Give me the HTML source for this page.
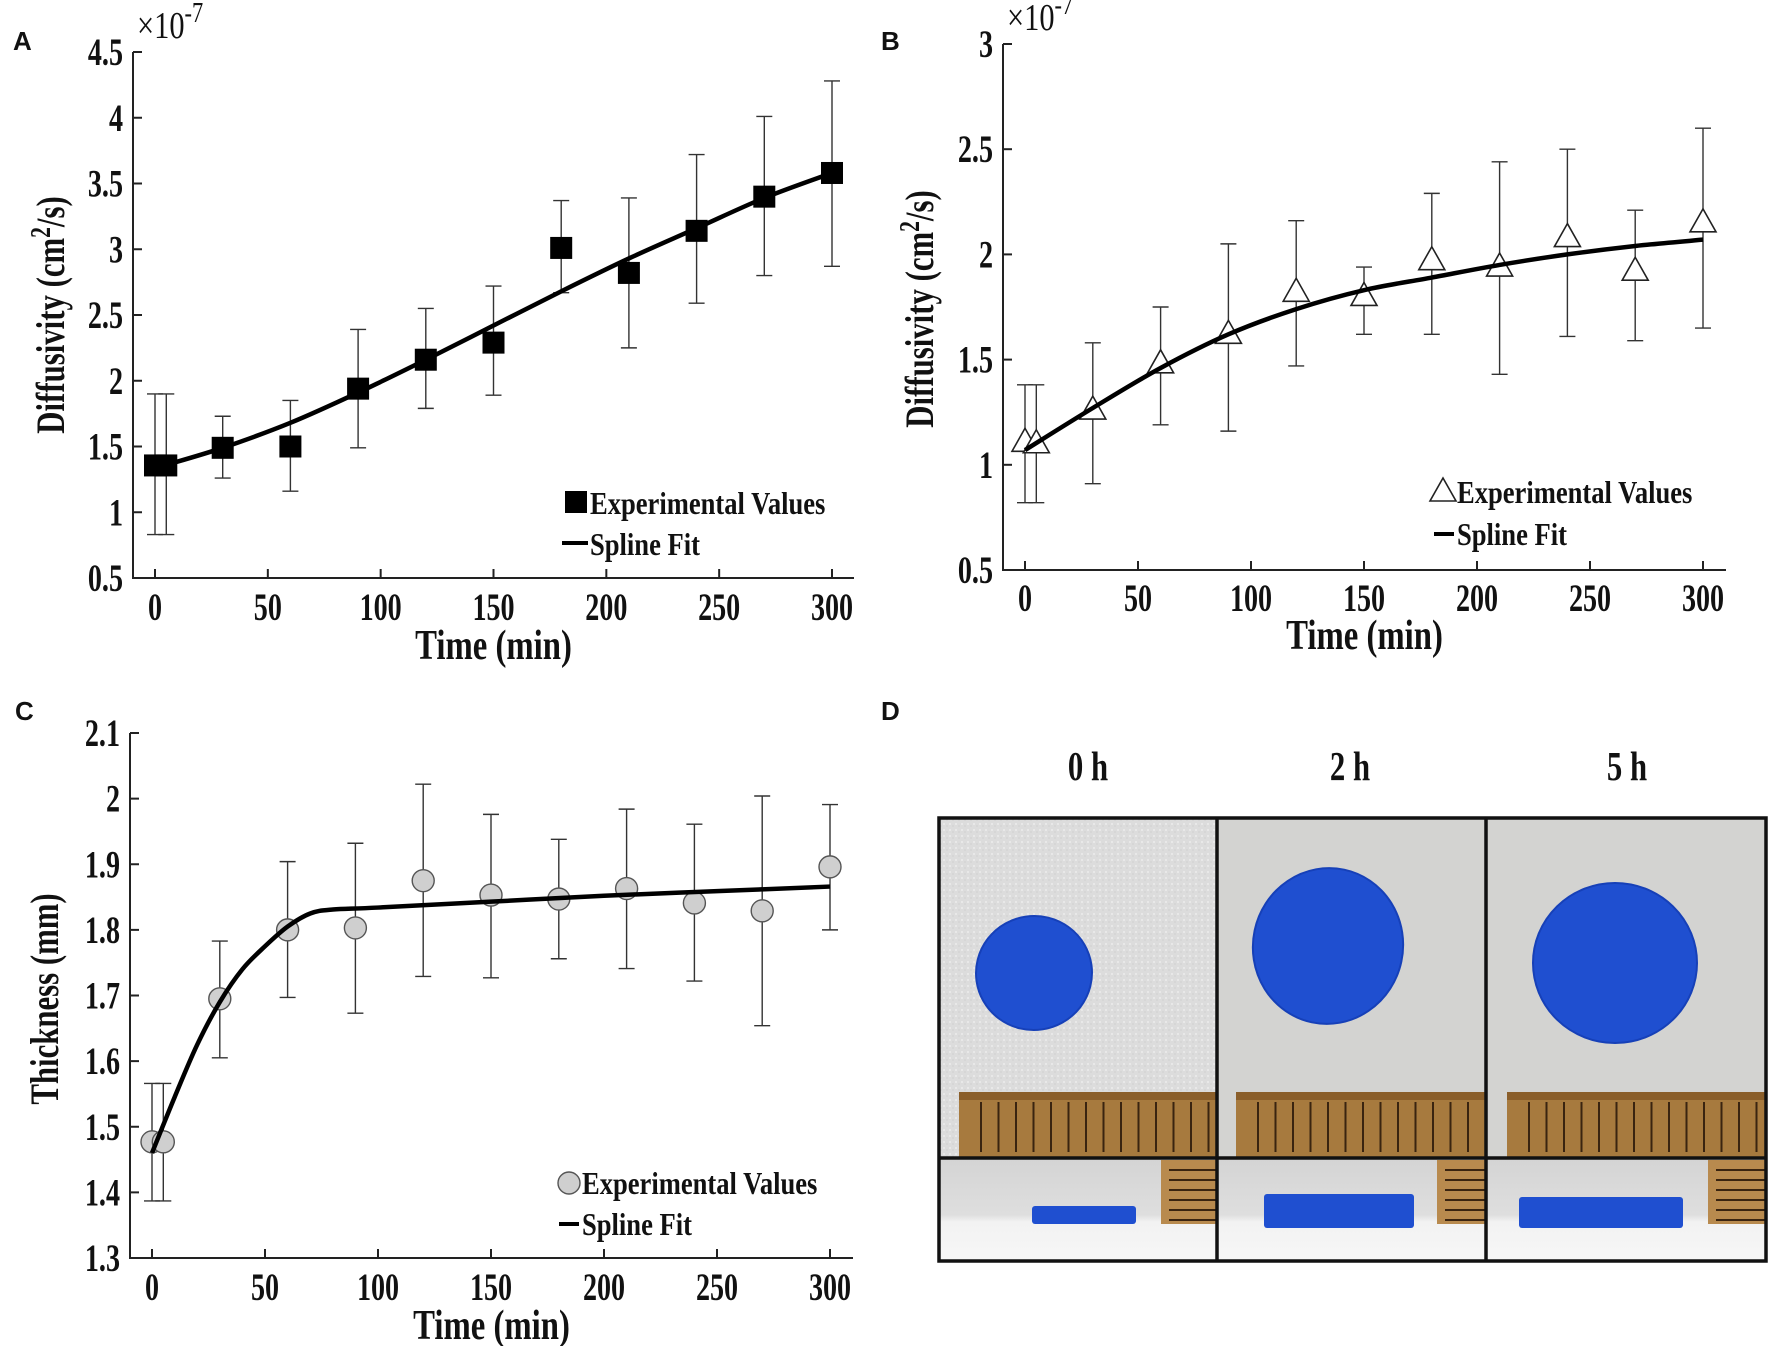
<!DOCTYPE html>
<html><head><meta charset="utf-8"><style>
body{margin:0;background:#fff}
svg{display:block}
text{font-family:"Liberation Serif",serif;font-weight:bold;fill:#111}
.lab{font-family:"Liberation Sans",sans-serif}
</style></head><body>
<svg id="fig" width="1772" height="1346" viewBox="0 0 1772 1346" xmlns="http://www.w3.org/2000/svg">
<defs>
<pattern id="tex" width="6" height="6" patternUnits="userSpaceOnUse"><rect width="6" height="6" fill="#dcdcdc"/><circle cx="2" cy="2" r="1" fill="#ececec"/><circle cx="5" cy="4" r="0.8" fill="#cfcfcf"/></pattern>
<linearGradient id="bot" x1="0" y1="0" x2="0" y2="1"><stop offset="0" stop-color="#d4d4d4"/><stop offset="0.55" stop-color="#dedede"/><stop offset="0.62" stop-color="#f2f2f2"/><stop offset="1" stop-color="#f7f7f7"/></linearGradient>
</defs>
<g id="root"></g>
</svg>
<script>
// Panel A data
const aTimes=[0,5,30,60,90,120,150,180,210,240,270,300];
const aVals=[1.356,1.356,1.49,1.50,1.94,2.16,2.29,3.01,2.82,3.14,3.40,3.58];
const aHi=[1.90,1.90,1.73,1.85,2.39,2.55,2.72,3.37,3.39,3.72,4.01,4.28];
const aLo=[0.83,0.83,1.26,1.16,1.49,1.79,1.89,2.67,2.25,2.59,2.80,2.87];
const aFitT=[5,30,60,90,120,150,180,210,240,270,300];
const aFitV=[1.36,1.49,1.68,1.91,2.16,2.42,2.68,2.93,3.16,3.39,3.58];
const aYTicks=[0.5,1,1.5,2,2.5,3,3.5,4,4.5];
const aYTickLabels=["0.5","1","1.5","2","2.5","3","3.5","4","4.5"];
// Panel B data
const bTimes=[0,5,30,60,90,120,150,180,210,240,270,300];
const bVals=[1.107,1.10,1.26,1.48,1.62,1.82,1.80,1.97,1.94,2.08,1.92,2.15];
const bHi=[1.38,1.38,1.58,1.75,2.05,2.16,1.94,2.29,2.44,2.50,2.21,2.60];
const bLo=[0.82,0.82,0.91,1.19,1.16,1.47,1.62,1.62,1.43,1.61,1.59,1.65];
const bFitT=[0,30,60,90,120,150,180,210,240,270,300];
const bFitV=[1.07,1.27,1.46,1.62,1.74,1.83,1.89,1.95,2.00,2.04,2.07];
const bYTicks=[0.5,1,1.5,2,2.5,3];
const bYTickLabels=["0.5","1","1.5","2","2.5","3"];
// Panel C data
const cTimes=[0,5,30,60,90,120,150,180,210,240,270,300];
const cVals=[1.477,1.477,1.695,1.80,1.803,1.875,1.853,1.847,1.863,1.841,1.829,1.896];
const cHi=[1.566,1.566,1.783,1.904,1.932,2.022,1.976,1.938,1.984,1.961,2.004,1.991];
const cLo=[1.387,1.387,1.605,1.697,1.673,1.729,1.727,1.756,1.741,1.722,1.654,1.80];
const cFitT=[0,10,20,30,40,50,60,70,80,100,150,200,250,300];
const cFitV=[1.46,1.545,1.625,1.69,1.74,1.775,1.805,1.825,1.831,1.834,1.843,1.852,1.859,1.866];
const cYTicks=[1.3,1.4,1.5,1.6,1.7,1.8,1.9,2,2.1];
const cYTickLabels=["1.3","1.4","1.5","1.6","1.7","1.8","1.9","2","2.1"];
const xTicks=[0,50,100,150,200,250,300];
const xTickLabels=["0","50","100","150","200","250","300"];

const NS="http://www.w3.org/2000/svg";
const root=document.getElementById('root');
function el(tag,attrs,parent){const e=document.createElementNS(NS,tag);for(const k in attrs)e.setAttribute(k,attrs[k]);(parent||root).appendChild(e);return e;}
function txt(parent,x,y,s,size,anchor,k,cls){
  const t=el('text',{x:x,y:y,'font-size':size,'text-anchor':anchor||'start'},parent);
  if(cls)t.setAttribute('class',cls);
  t.textContent=s;
  if(k&&k!==1){const w=t.getComputedTextLength();t.setAttribute('textLength',w*k);t.setAttribute('lengthAdjust','spacingAndGlyphs');}
  return t;
}
function catmull(pts){
  let d="M"+pts[0][0]+","+pts[0][1];
  for(let i=0;i<pts.length-1;i++){
    const p0=pts[Math.max(0,i-1)],p1=pts[i],p2=pts[i+1],p3=pts[Math.min(pts.length-1,i+2)];
    const c1=[p1[0]+(p2[0]-p0[0])/6,p1[1]+(p2[1]-p0[1])/6];
    const c2=[p2[0]-(p3[0]-p1[0])/6,p2[1]-(p3[1]-p1[1])/6];
    d+=" C"+c1[0]+","+c1[1]+" "+c2[0]+","+c2[1]+" "+p2[0]+","+p2[1];
  }
  return d;
}
function panel(c){
  const g=el('g',{});
  
  
  const X=t=>c.x0+(t/300)*(c.x300-c.x0);
  const Y=v=>c.yb+(v-c.ymin)/(c.ymax-c.ymin)*(c.yt-c.yb);
  const ax=el('path',{d:`M${c.axL},${c.yt}V${c.yb}H${c.axR}`,stroke:'#222','stroke-width':2,fill:'none'},g);
  
  
  xTicks.forEach((t,i)=>{
    el('line',{x1:X(t),x2:X(t),y1:c.yb,y2:c.yb-9,stroke:'#222','stroke-width':2},g);
    const l=txt(g,X(t),c.xtY,xTickLabels[i],39,'middle',0.72);
    
    
  });
  c.yt_.forEach((v,i)=>{
    el('line',{x1:c.axL,x2:c.axL+9,y1:Y(v),y2:Y(v),stroke:'#222','stroke-width':2},g);
    const l=txt(g,c.axL-10,Y(v)+13,c.ytl[i],39,'end',0.72);
    
    
  });
  const xl=txt(g,(c.axL+c.axR)/2,c.xlY,'Time (min)',42,'middle',0.78);
  
  
  const yg=el('g',{transform:`translate(${c.ylX},${c.ylY}) rotate(-90)`},g);
  const yl=txt(yg,0,0,'',40,'middle');
  if(c.sup){
    yl.appendChild(document.createTextNode('Diffusivity (cm'));
    const s=el('tspan',{dy:-14,'font-size':28},yl);s.textContent='2';
    const r=el('tspan',{dy:14},yl);r.textContent='/s)';
  } else {yl.textContent=c.ylabel;}
  {const w=yl.getComputedTextLength();yl.setAttribute('textLength',w*0.77);yl.setAttribute('lengthAdjust','spacingAndGlyphs');}
  
  
  if(c.exp){
    const e=el('text',{x:c.axL+4,y:c.yt-14,'font-size':38},g);
    
    
    e.style.fontWeight='normal';
    e.textContent='×10';
    const s=el('tspan',{dy:-16,'font-size':28},e);s.textContent='-7';
    e.setAttribute('textLength',e.getComputedTextLength()*0.8);e.setAttribute('lengthAdjust','spacingAndGlyphs');
  }
  c.t.forEach((t,i)=>{
    const x=X(t),cap=8;
    const eb=el('path',{d:`M${x},${Y(c.hi[i])}V${Y(c.lo[i])}M${x-cap},${Y(c.hi[i])}H${x+cap}M${x-cap},${Y(c.lo[i])}H${x+cap}`,stroke:'#333','stroke-width':1.4,fill:'none'},g);
    
    
  });
  function marker(x,y,parent){
    let m;
    if(c.mk==='sq')m=el('rect',{x:x-11,y:y-11,width:22,height:22,fill:'#000'},parent);
    else if(c.mk==='tri')m=el('path',{d:`M${x},${y-14}L${x+13},${y+9}L${x-13},${y+9}Z`,fill:'#fff',stroke:'#222','stroke-width':1.6},parent);
    else m=el('ellipse',{cx:x,cy:y,rx:11,ry:11,fill:'#cfcfcf',stroke:'#555','stroke-width':1.4},parent);
    return m;
  }
  c.t.forEach((t,i)=>{
    const m=marker(X(t),Y(c.v[i]),g);
    
    
  });
  const pts=c.ft.map((t,i)=>[X(t),Y(c.fv[i])]);
  const f=el('path',{d:catmull(pts),stroke:'#000','stroke-width':4.5,fill:'none'},g);
  
  
  const lg=el('g',{},g);
  
  
  const lm=marker(c.lgMX,c.lgMY,lg);
  
  
  const t1=txt(lg,c.lgTX,c.lgB1,'Experimental Values',32,'start',0.83);
  
  
  const ll=el('line',{x1:c.lgLX1,x2:c.lgLX2,y1:c.lgLY,y2:c.lgLY,stroke:'#000','stroke-width':4},lg);
  
  
  const t2=txt(lg,c.lgTX,c.lgB2,'Spline Fit',32,'start',0.83);
  
  
  const pl=txt(g,c.pX,c.pY,c.pl,26,'start',1,'lab');
  
  
}
panel({name:'panel-a-chart',x0:155,x300:832,axL:133,axR:854,yt:52,yb:578,ymin:0.5,ymax:4.5,yt_:aYTicks,ytl:aYTickLabels,
 t:aTimes,v:aVals,hi:aHi,lo:aLo,ft:aFitT,fv:aFitV,mk:'sq',sup:true,exp:true,xtY:620,xlY:659,ylX:64,ylY:315,
 lgMX:576,lgMY:502,lgTX:590,lgB1:514,lgLX1:562,lgLX2:588,lgLY:543,lgB2:555,pl:'A',pX:13,pY:50});
panel({name:'panel-b-chart',x0:1025,x300:1703,axL:1003,axR:1726,yt:44,yb:570,ymin:0.5,ymax:3,yt_:bYTicks,ytl:bYTickLabels,
 t:bTimes,v:bVals,hi:bHi,lo:bLo,ft:bFitT,fv:bFitV,mk:'tri',sup:true,exp:true,xtY:611,xlY:649,ylX:933,ylY:309,
 lgMX:1443,lgMY:492,lgTX:1457,lgB1:503,lgLX1:1434,lgLX2:1454,lgLY:534,lgB2:545,pl:'B',pX:881,pY:50});
panel({name:'panel-c-chart',x0:152,x300:830,axL:130,axR:853,yt:733,yb:1258,ymin:1.3,ymax:2.1,yt_:cYTicks,ytl:cYTickLabels,
 t:cTimes,v:cVals,hi:cHi,lo:cLo,ft:cFitT,fv:cFitV,mk:'circ',sup:false,ylabel:'Thickness (mm)',exp:false,xtY:1300,xlY:1339,ylX:58,ylY:999,
 lgMX:569,lgMY:1183,lgTX:582,lgB1:1194,lgLX1:559,lgLX2:579,lgLY:1224,lgB2:1235,pl:'C',pX:15,pY:720});

const D=el('g',{});


const dl=txt(D,881,720,'D',26,'start',1,'lab');


const cols=[[939,1217,'0 h',1034,973,58,57,-8,1032,1136,1206,1224,1161,959,1088],[1217,1486,'2 h',1328,946,75,78,12,1264,1414,1194,1228,1437,1236,1350],[1486,1766,'5 h',1615,963,82,80,0,1519,1683,1197,1228,1708,1507,1627]];
cols.forEach(c=>{
  const [x1,x2,lab,cx,cy,rx,ry,rot,sx1,sx2,sy1,sy2,rvx,rx0,lx]=c;
  const t=txt(D,lx,780,lab,41,'middle',0.75);
  
  
  const bg=el('rect',{x:x1,y:818,width:x2-x1,height:340,fill:lab==='0 h'?'url(#tex)':'#d3d3d1'},D);
  
  
  const disc=el('ellipse',{cx:cx,cy:cy,rx:rx,ry:ry,fill:'#1f4fd0',stroke:'#1640b8','stroke-width':2,transform:`rotate(${rot} ${cx} ${cy})`},D);
  
  
  const rul=el('rect',{x:rx0,y:1092,width:x2-rx0,height:65,fill:'#a77a3e'},D);
  
  
  el('rect',{x:rx0,y:1092,width:x2-rx0,height:8,fill:'#8a5e2a'},D);
  for(let x=rx0+22;x<x2;x+=17.5){el('line',{x1:x,x2:x,y1:1102,y2:1152,stroke:'#3a2410','stroke-width':2},D);}
  const bb=el('rect',{x:x1,y:1158,width:x2-x1,height:103,fill:'url(#bot)'},D);
  
  
  el('rect',{x:rvx,y:1160,width:x2-rvx,height:64,fill:'#b88a4e'},D);
  for(let y=1170;y<1224;y+=10){el('line',{x1:rvx+8,x2:x2,y1:y,y2:y,stroke:'#3a2410','stroke-width':2},D);}
  const sd=el('rect',{x:sx1,y:sy1,width:sx2-sx1,height:sy2-sy1,rx:3,fill:'#1f4fd0'},D);
  
  
});
const fr=el('path',{d:'M939,818H1766V1261H939ZM1217,818V1261M1486,818V1261M939,1158H1766',stroke:'#111','stroke-width':3.5,fill:'none'},D);


</script>
</body></html>
